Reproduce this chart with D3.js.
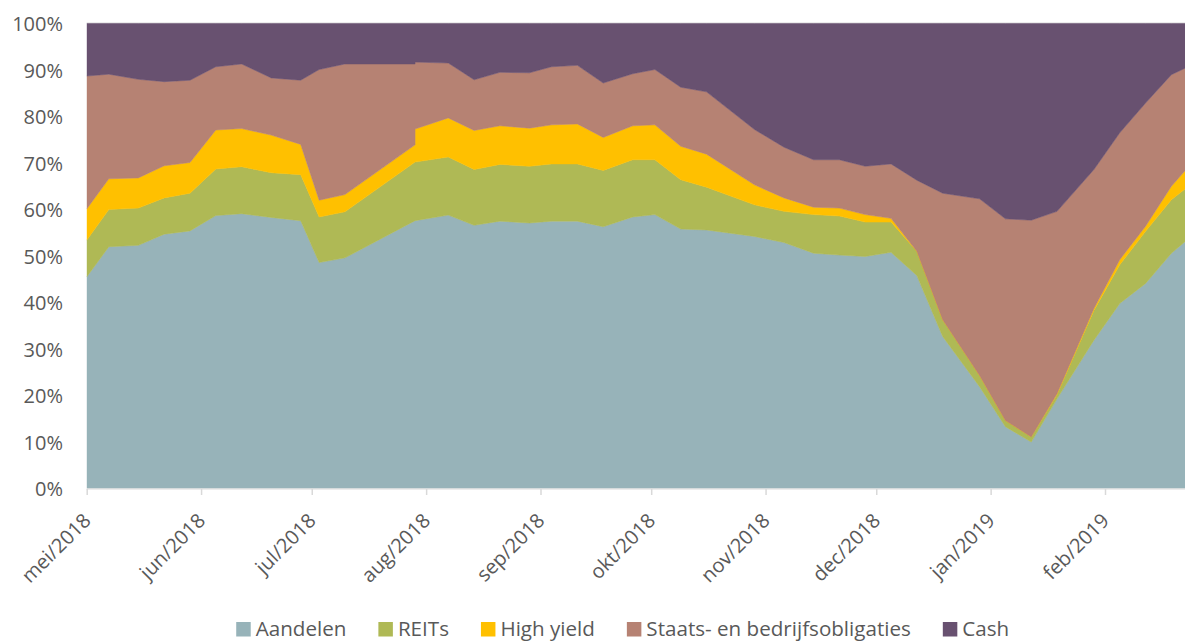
<!DOCTYPE html>
<html><head><meta charset="utf-8">
<script src="https://cdn.jsdelivr.net/npm/d3@7"></script>
<style>
body{margin:0;background:#fff}
svg{display:block;font-family:"Open Sans",sans-serif}
</style>
</head><body>
<svg id="chart" width="1185" height="641"></svg>
<script>
// ---- data (percent of portfolio) ----
const dates = ["2018-05-01","2018-05-07","2018-05-15","2018-05-22","2018-05-29","2018-06-05","2018-06-12","2018-06-20","2018-06-28","2018-07-03","2018-07-10","2018-07-29","2018-07-29","2018-08-07","2018-08-14","2018-08-21","2018-08-29","2018-09-04","2018-09-11","2018-09-18","2018-09-26","2018-10-02","2018-10-09","2018-10-16","2018-10-29","2018-11-06","2018-11-14","2018-11-21","2018-11-28","2018-12-05","2018-12-12","2018-12-19","2018-12-29","2019-01-05","2019-01-12","2019-01-19","2019-01-29","2019-02-05","2019-02-12","2019-02-19","2019-02-23"];
const aandelen  = [45.5,52.0,52.3,54.7,55.4,58.7,59.1,58.3,57.6,48.6,49.6,57.6,57.6,58.8,56.6,57.5,57.1,57.5,57.5,56.3,58.4,58.9,55.8,55.6,54.2,52.9,50.6,50.2,49.9,50.8,45.8,32.7,21.9,13.3,10.0,19.3,31.9,39.8,44.1,50.6,53.3];
const reits     = [7.9,8.0,8.0,7.8,8.1,10.0,10.1,9.6,9.9,9.8,9.9,12.6,12.6,12.5,12.0,12.2,12.2,12.3,12.3,12.1,12.3,11.8,10.6,9.2,6.8,6.7,8.3,8.4,7.4,6.5,5.2,3.6,2.4,1.3,1.1,0.9,6.4,8.3,11.2,11.5,11.3];
const highYield = [6.7,6.6,6.5,6.9,6.6,8.4,8.2,8.1,6.5,3.6,3.7,3.7,7.1,8.4,8.4,8.3,8.2,8.4,8.6,7.1,7.3,7.5,7.2,7.1,4.3,2.9,1.6,1.7,1.6,0.8,0.0,0.0,0.0,0.0,0.0,0.2,0.4,1.1,1.1,2.9,4.0];
const staats    = [28.6,22.5,21.2,18.1,17.7,13.6,13.9,12.3,13.8,28.1,28.1,17.4,14.4,11.8,10.9,11.5,11.9,12.5,12.6,11.7,11.2,11.9,12.7,13.4,11.9,10.9,10.2,10.4,10.4,11.7,15.3,27.2,38.0,43.4,46.6,39.2,29.9,27.3,26.5,24.0,21.9];
const cash      = [11.3,10.9,12.0,12.5,12.2,9.3,8.7,11.7,12.2,9.9,8.7,8.7,8.3,8.5,12.1,10.5,10.6,9.3,9.0,12.8,10.8,9.9,13.7,14.7,22.8,26.6,29.3,29.3,30.7,30.2,33.7,36.5,37.7,42.0,42.3,40.4,31.4,23.5,17.1,11.0,9.5];

const seriesNames = ["Aandelen","REITs","High yield","Staats- en bedrijfsobligaties","Cash"];
const seriesColors = ["#97b3b9","#afb955","#ffc000","#b68273","#685170"];
const monthTicks = ["2018-05-01","2018-06-01","2018-07-01","2018-08-01","2018-09-01","2018-10-01","2018-11-01","2018-12-01","2019-01-01","2019-02-01"];
const monthLabels = ["mei/2018","jun/2018","jul/2018","aug/2018","sep/2018","okt/2018","nov/2018","dec/2018","jan/2019","feb/2019"];
const yTicks = [0,0.1,0.2,0.3,0.4,0.5,0.6,0.7,0.8,0.9,1.0];

// ---- build ----
const parse = d3.utcParse("%Y-%m-%d");
const seriesValues = [aandelen, reits, highYield, staats, cash];
const rows = dates.map((d,i)=>{
  const r = {date: parse(d)};
  seriesNames.forEach((k,j)=> r[k] = seriesValues[j][i]);
  return r;
});

const svg = d3.select("#chart");
const plotLeft = 86.7, plotRight = 1185, plotTop = 23.5, plotBottom = 488.5;

const x = d3.scaleUtc()
  .domain([parse("2018-05-01"), parse("2019-02-01")])
  .range([plotLeft, 1105]);
const y = d3.scaleLinear().domain([0,1]).range([plotBottom, plotTop]);

const stacked = d3.stack().keys(seriesNames).offset(d3.stackOffsetExpand)(rows);

svg.append("clipPath").attr("id","plotclip")
  .append("rect").attr("x",plotLeft).attr("y",plotTop-2).attr("width",plotRight-plotLeft).attr("height",plotBottom-plotTop+2);

svg.append("line").attr("x1",plotLeft).attr("x2",plotRight).attr("y1",plotTop-0.5).attr("y2",plotTop-0.5)
  .attr("stroke","#d9d9d9").attr("stroke-width",1);

const area = d3.area()
  .x(d=>x(d.data.date))
  .y0(d=>y(d[0]))
  .y1(d=>y(d[1]));

svg.append("g").attr("clip-path","url(#plotclip)")
  .selectAll("path").data(stacked).join("path")
  .attr("d", area)
  .attr("fill",(d,i)=>seriesColors[i])
  .attr("stroke",(d,i)=>seriesColors[i])
  .attr("stroke-width",0.5);

// y axis
const yAxis = d3.axisLeft(y).tickValues(yTicks).tickFormat(d3.format(".0%")).tickSize(0).tickPadding(0);
const gy = svg.append("g").attr("transform","translate(63,0)").call(yAxis);
gy.select(".domain").remove();
gy.selectAll("text").attr("fill","#595959").style("font-size","20px").style("font-family","'Open Sans',sans-serif").attr("dy","0.35em");

// x axis
svg.append("line").attr("x1",plotLeft).attr("x2",plotRight).attr("y1",plotBottom+0.5).attr("y2",plotBottom+0.5)
  .attr("stroke","#d9d9d9").attr("stroke-width",1);
const xAxis = d3.axisBottom(x).tickValues(monthTicks.map(parse)).tickSize(6)
  .tickFormat((d,i)=>monthLabels[i]);
const gx = svg.append("g").attr("transform",`translate(0,${plotBottom+0.5})`).call(xAxis);
gx.select(".domain").remove();
gx.selectAll(".tick line").attr("stroke","#d9d9d9").attr("stroke-width",1.5);
gx.selectAll("text")
  .attr("fill","#595959").style("font-size","20px").style("font-family","'Open Sans',sans-serif")
  .attr("x",0).attr("y",0).attr("dy","0.35em")
  .attr("text-anchor","end")
  .attr("transform","translate(0,28) rotate(-45)");

// legend
const lg = svg.append("g");
const items = lg.selectAll("g").data(seriesNames).join("g");
items.append("rect").attr("width",14.5).attr("height",14.5).attr("y",622)
  .attr("fill",(d,i)=>seriesColors[i]);
items.append("text").text(d=>d).attr("x",19.5).attr("y",635.5)
  .attr("fill","#595959").style("font-size","20.6px").style("font-family","'Open Sans',sans-serif");
let widths = [];
items.each(function(){ widths.push(this.querySelector("text").getComputedTextLength()); });
const gap = 32;
const itemW = widths.map(w=>19.5+w);
const total = d3.sum(itemW) + gap*(itemW.length-1);
let cx = 622.7 - total/2;
items.attr("transform",(d,i)=>{ const t = `translate(${cx},0)`; cx += itemW[i]+gap; return t; });
</script>
</body></html>
